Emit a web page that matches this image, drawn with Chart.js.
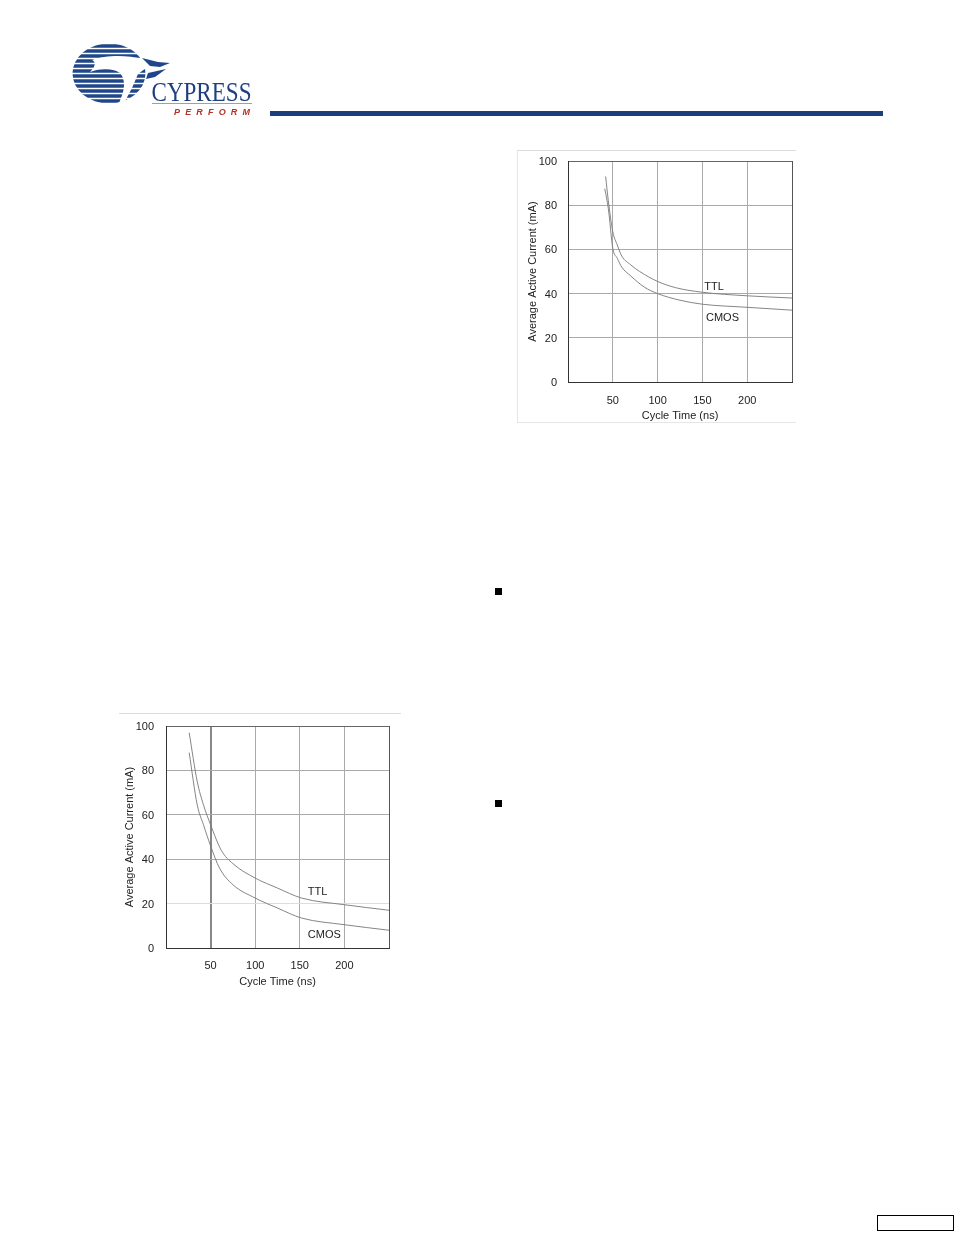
<!DOCTYPE html>
<html><head><meta charset="utf-8">
<script src="https://cdn.jsdelivr.net/npm/chart.js@4"></script>
<style>
html,body{margin:0;padding:0;background:#fff;width:954px;height:1235px;overflow:hidden}
.abs{position:absolute}
canvas{display:block}
</style></head><body>
<svg class="abs" style="left:0;top:0;filter:blur(.3px)" width="300" height="125" viewBox="0 0 300 125">
<defs><clipPath id="g"><ellipse cx="109" cy="73.500" rx="36.500" ry="30"/></clipPath></defs>
<g clip-path="url(#g)" stroke="#1f4688" stroke-width="3.400">
<line x1="70" x2="150" y1="46" y2="46"/><line x1="70" x2="150" y1="51" y2="51"/><line x1="70" x2="150" y1="56" y2="56"/><line x1="70" x2="150" y1="61" y2="61"/><line x1="70" x2="150" y1="66" y2="66"/><line x1="70" x2="150" y1="71" y2="71"/><line x1="70" x2="150" y1="76" y2="76"/><line x1="70" x2="150" y1="81" y2="81"/><line x1="70" x2="150" y1="86" y2="86"/><line x1="70" x2="150" y1="91" y2="91"/><line x1="70" x2="150" y1="96" y2="96"/><line x1="70" x2="150" y1="101" y2="101"/>
</g>
<path d="M92 60 C105 55 128 55 142 59 L150 62 L146 68 L138 74 L132 88 L124 103 L119 103 C125 90 126 80 120 73 C110 67 100 69 90 72 C96 66 96 62 92 60Z" fill="#fff"/>
<path d="M142 58 L158 62 L170 63 L160 67 L150 66Z M148 73 L166 69 L155 77 L146 79Z" fill="#1f4688"/>
<text x="151.500" y="100.500" font-family="Liberation Serif" font-size="27" fill="#1f3f7f" textLength="100" lengthAdjust="spacingAndGlyphs">CYPRESS</text>
<line x1="152" x2="252" y1="103.500" y2="103.500" stroke="#d98a80" stroke-width="1"/>
<text x="174" y="114.500" font-family="Liberation Sans" font-size="9" font-style="italic" font-weight="bold" fill="#b5332a" textLength="76">PERFORM</text>
</svg>
<div class="abs" style="left:270px;top:111px;width:613px;height:5px;background:#1b3f7c"></div>

<div class="abs" style="left:517px;top:150px;width:279px;height:273px;box-sizing:border-box;border-top:1px solid #ddd;border-left:1px solid #e6e6e6;border-bottom:1px solid #e6e6e6"></div>
<div class="abs" style="left:517px;top:150px;width:279px;height:273px"><canvas id="top" width="279" height="273" style="width:279px;height:273px;filter:blur(.35px)"></canvas></div>

<div class="abs" style="left:119px;top:713px;width:282px;height:1px;background:#ddd"></div>
<div class="abs" style="left:119px;top:713px;width:282px;height:277px"><canvas id="bot" width="282" height="277" style="width:282px;height:277px;filter:blur(.35px)"></canvas></div>

<div class="abs" style="left:495px;top:588px;width:7px;height:7px;background:#000"></div>
<div class="abs" style="left:495px;top:800px;width:7px;height:7px;background:#000"></div>
<div class="abs" style="left:877px;top:1215px;width:75px;height:14px;border:1px solid #000;box-sizing:content-box"></div>

<script>
const xTicks = [50, 100, 150, 200];
const yTicks = [0, 20, 40, 60, 80, 100];
const xTitle = 'Cycle Time (ns)';
const yTitle = 'Average Active Current (mA)';

const topTtlCycle = [42, 45, 50, 55, 60, 70, 80, 100, 120, 150, 200, 250];
const topTtlCurrent = [93, 82, 68, 62, 57, 53, 50, 45.5, 42.7, 40.6, 39, 38];
const topCmosCycle = [41, 45, 50, 55, 60, 70, 85, 100, 125, 150, 200, 250];
const topCmosCurrent = [87.5, 78.5, 60.5, 56, 52, 48, 43, 40, 37, 35.2, 33.8, 32.5];

const botTtlCycle = [26, 35, 42, 50, 62, 75, 100, 125, 152, 200, 250];
const botTtlCurrent = [97, 75, 64.5, 55.5, 44, 38, 31.5, 27, 22.5, 19.5, 17];
const botCmosCycle = [26, 35, 42, 50, 60, 75, 100, 125, 152, 200, 250];
const botCmosCurrent = [88, 64.5, 55.5, 46, 36, 28.5, 22.5, 18, 13.5, 10.5, 8];

const FONT = 'Liberation Sans';
const pairs = (xs, ys) => xs.map((x, i) => ({x, y: ys[i]}));
const labelPlugin = labels => ({
  id: 'curveLabels',
  afterDatasetsDraw(c) {
    const g = c.ctx;
    g.save();
    g.font = '11px "' + FONT + '"';
    g.fillStyle = '#222';
    g.textBaseline = 'middle';
    labels.forEach(l => g.fillText(l.text, c.scales.x.getPixelForValue(l.x), c.scales.y.getPixelForValue(l.y)));
    g.restore();
  }
});
function make(id, cfg) {
  new Chart(document.getElementById(id), {
    type: 'line',
    data: {datasets: [
      {label: 'TTL', data: pairs(cfg.ttl[0], cfg.ttl[1])},
      {label: 'CMOS', data: pairs(cfg.cmos[0], cfg.cmos[1])}
    ].map(d => Object.assign(d, {borderColor: '#777', borderWidth: .9, pointRadius: 0, cubicInterpolationMode: 'monotone', fill: false}))},
    plugins: [labelPlugin(cfg.labels)],
    options: {
      responsive: false, animation: false, devicePixelRatio: 1,
      layout: {padding: cfg.padding},
      plugins: {legend: {display: false}, tooltip: {enabled: false}},
      scales: {
        x: {
          type: 'linear', min: 0, max: 250,
          afterBuildTicks: a => { a.ticks = [0].concat(xTicks, [250]).map(value => ({value})); },
          afterFit: s => { s.height = cfg.xh; s.paddingLeft = 0; s.paddingRight = 0; },
          border: {color: '#333', width: 1},
          grid: {color: c => cfg.xGrid(c.tick.value), lineWidth: c => cfg.xLine(c.tick.value), drawTicks: false},
          ticks: {padding: cfg.xPad, maxRotation: 0, autoSkip: false, color: '#222', font: {family: FONT, size: 11}, callback: v => xTicks.includes(v) ? String(v) : ''},
          title: {display: true, text: xTitle, color: '#222', font: {family: FONT, size: 11}, padding: {top: 2, bottom: cfg.xTitleBottom}}
        },
        y: {
          min: 0, max: 100,
          afterBuildTicks: a => { a.ticks = yTicks.map(value => ({value})); },
          afterFit: s => { s.width = cfg.yw; s.paddingTop = 0; s.paddingBottom = 0; },
          border: {color: '#333', width: 1},
          grid: {color: c => cfg.yGrid(c.tick.value), lineWidth: 1, drawTicks: false},
          ticks: {padding: cfg.yPad, labelOffset: 1, color: '#222', font: {family: FONT, size: 11}},
          title: {display: true, text: yTitle, color: '#222', font: {family: FONT, size: 11}, padding: {top: cfg.titlePad, bottom: 0}}
        }
      }
    }
  });
}
make('top', {
  ttl: [topTtlCycle, topTtlCurrent], cmos: [topCmosCycle, topCmosCurrent],
  labels: [{text: 'TTL', x: 152, y: 43}, {text: 'CMOS', x: 154, y: 29}],
  padding: {top: 11, right: 4, left: 0, bottom: 0}, xh: 41, yw: 51, xPad: 12, yPad: 11, titlePad: 9, xTitleBottom: 0,
  xGrid: v => v === 250 ? '#555' : (v === 0 ? '#333' : '#aaa'), xLine: v => 1,
  yGrid: v => v === 100 ? '#666' : (v === 0 ? '#333' : '#aaa')
});
make('bot', {
  ttl: [botTtlCycle, botTtlCurrent], cmos: [botCmosCycle, botCmosCurrent],
  labels: [{text: 'TTL', x: 159, y: 25.2}, {text: 'CMOS', x: 159, y: 5.8}],
  padding: {top: 13, right: 12, left: 0, bottom: 0}, xh: 42, yw: 47, xPad: 11, yPad: 12, titlePad: 4, xTitleBottom: 1,
  xGrid: v => v === 250 ? '#555' : (v === 0 ? '#333' : (v === 50 ? '#888' : '#aaa')), xLine: v => v === 50 ? 2 : 1,
  yGrid: v => v === 100 ? '#666' : (v === 0 ? '#333' : (v === 20 ? '#ddd' : '#aaa'))
});
</script>
</body></html>
